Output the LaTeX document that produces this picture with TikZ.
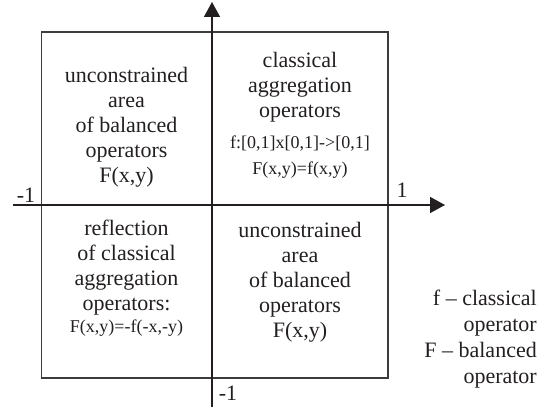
\documentclass[tikz,border=0pt]{standalone}
\usepackage{fontspec}
\setmainfont{Liberation Serif}
\usetikzlibrary{arrows.meta}
\definecolor{ink}{RGB}{35,31,32}
\definecolor{lineink}{RGB}{60,60,60}
\tikzset{
  axisline/.style={draw=lineink, line width=1.5pt},
  boxline/.style={draw=lineink, line width=1.5pt},
  bigtext/.style={text=ink, inner sep=0pt, align=center, font=\fontsize{22}{25}\selectfont},
  legendtext/.style={text=ink, inner sep=0pt, align=right, font=\fontsize{22}{26}\selectfont},
  axislabel/.style={text=ink, inner sep=0pt, anchor=base, font=\fontsize{22}{25}\selectfont}
}
\newcommand{\smalltxt}{\fontsize{18}{22}\selectfont}
\begin{document}
\begin{tikzpicture}[x=1pt,y=-1pt]
\useasboundingbox (0,0) rectangle (547,409);
% square
\draw[boxline] (41.5,32) rectangle (388,378);
% axes
\coordinate (xs) at (13,205);
\coordinate (xe) at (445,205);
\coordinate (ys) at (212,407);
\coordinate (ye) at (212,2);
\draw[axisline, -{Triangle[length=15pt,width=16pt]}, ink] (xs) -- (xe);
\draw[axisline, -{Triangle[length=15pt,width=16pt]}, ink] (ys) -- (ye);
% quadrant texts
\node[bigtext, anchor=north] (tl) at (126.5,67) {unconstrained\\area\\of balanced\\operators\\F(x,y)};
\node[bigtext, anchor=north] (tr) at (300,52) {classical\\aggregation\\operators\\[6pt]{\smalltxt f:[0,1]x[0,1]->[0,1]}\\[1pt]{\smalltxt F(x,y)=f(x,y)}};
\node[bigtext, anchor=north] (bl) at (126.5,220) {reflection\\of classical\\aggregation\\operators:\\[-3pt]{\smalltxt F(x,y)=-f(-x,-y)}};
\node[bigtext, anchor=north] (br) at (300,222) {unconstrained\\area\\of balanced\\operators\\F(x,y)};
% axis labels
\node[axislabel] (lm) at (26,203) {-1};
\node[axislabel] (lp) at (402,198) {1};
\node[axislabel] (lb) at (228,400) {-1};
% legend
\node[legendtext, anchor=north east] (leg) at (537,290) {f -- classical\\operator\\F -- balanced\\operator};
\end{tikzpicture}
\end{document}
